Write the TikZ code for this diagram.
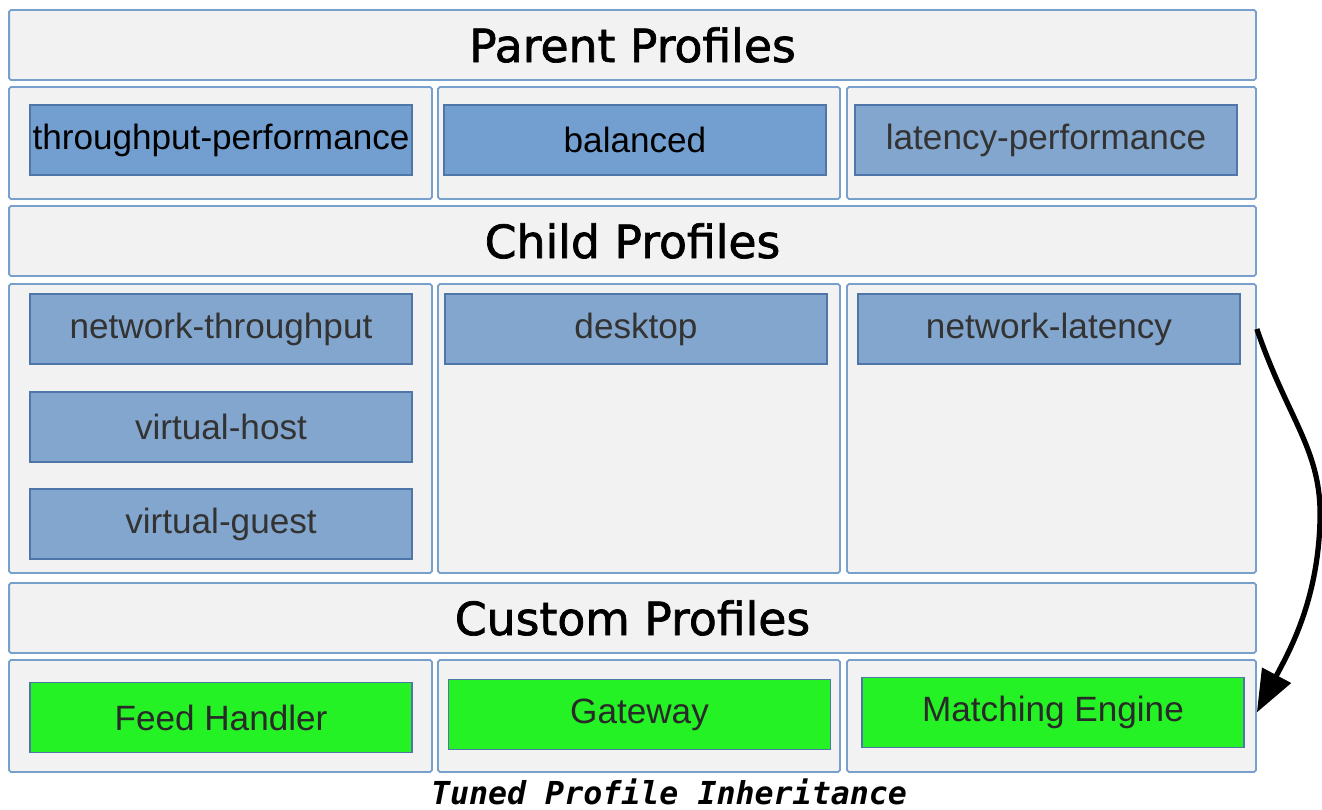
\documentclass[tikz,border=0pt]{standalone}
\usepackage{fontspec}
\setmainfont{Liberation Sans}
\newfontfamily\headfont[FakeBold=1.5]{DejaVu Sans}
\newfontfamily\capfont{DejaVu Sans Mono}
\usetikzlibrary{arrows.meta,positioning}
\definecolor{framefill}  {RGB}{242,242,242}
\definecolor{frameline}  {RGB}{120,160,205}
\definecolor{parentblue} {RGB}{114,159,207}
\definecolor{childblue}  {RGB}{131,166,206}
\definecolor{boxline}    {RGB}{78,118,168}
\definecolor{customgreen}{RGB}{36,242,36}
\definecolor{labelgray}  {RGB}{51,51,51}
\tikzset{
  frame/.style   ={draw=frameline, fill=framefill, line width=1pt,
                   rounded corners=1pt, inner sep=0pt},
  headbox/.style ={frame, minimum width=24.94cm, minimum height=1.4cm,
                   font=\headfont\fontsize{26}{30}\selectfont},
  cellbox/.style ={frame, minimum width=#1, minimum height=2.24cm},
  profbox/.style ={draw=boxline, line width=0.8pt, inner sep=0pt,
                   minimum width=7.64cm, minimum height=1.4cm,
                   font=\fontsize{20}{24}\selectfont},
  parentbox/.style={profbox, fill=parentblue, text=black},
  childbox/.style ={profbox, fill=childblue, text=labelgray},
  custombox/.style={profbox, fill=customgreen, text=labelgray!80!black},
  arr/.style     ={-{Triangle[length=24pt,width=18pt]}, line width=3pt},
}
\begin{document}
\begin{tikzpicture}[x=0.02cm,y=-0.02cm]
  \useasboundingbox (0,0) rectangle (1322,810);
  %% parent profiles
  \node[headbox] (parenthead) at (632.5,45) {Parent Profiles};
  \node[cellbox=8.46cm] (tpcell) at (220.5,143) {};
  \node[cellbox=8.04cm] (bacell) at (639,143) {};
  \node[cellbox=8.18cm] (lpcell) at (1051.5,143) {};
  \node[parentbox] (tp) at (221,140) {throughput-performance};
  \node[parentbox] (ba) at (635,140) {balanced};
  \node[childbox]  (lp) at (1046,140) {latency-performance};
  %% child profiles
  \node[headbox] (childhead) at (632.5,241) {Child Profiles};
  \node[cellbox=8.46cm, minimum height=5.78cm] (ntcell) at (220.5,428.5) {};
  \node[cellbox=8.04cm, minimum height=5.78cm] (dtcell) at (639,428.5) {};
  \node[cellbox=8.18cm, minimum height=5.78cm] (nlcell) at (1051.5,428.5) {};
  \node[childbox] (nt) at (221,329) {network-throughput};
  \node[childbox] (vh) at (221,427) {virtual-host};
  \node[childbox] (vg) at (221,524) {virtual-guest};
  \node[childbox] (dt) at (636,329) {desktop};
  \node[childbox] (nl) at (1049,329) {network-latency};
  %% custom profiles
  \node[headbox] (customhead) at (632.5,618) {Custom Profiles};
  \node[cellbox=8.46cm] (fhcell) at (220.5,716) {};
  \node[cellbox=8.04cm] (gwcell) at (639,716) {};
  \node[cellbox=8.18cm] (mecell) at (1051.5,716) {};
  \node[custombox] (fh) at (221,717.5) {Feed Handler};
  \node[custombox] (gw) at (639.5,714.5) {Gateway};
  \node[custombox] (me) at (1053,712.5) {Matching Engine};
  %% inheritance arrow
  \draw[arr] (nlcell.east |- nl.east)
    .. controls (1288,420) and (1322,450) .. (1320,520)
    .. controls (1318,600) and (1290,650) .. (mecell.east |- me.east);
  \node[font=\capfont\bfseries\itshape\fontsize{18}{22}\selectfont] (caption)
    at (669,792) {Tuned Profile Inheritance};
\end{tikzpicture}
\end{document}
